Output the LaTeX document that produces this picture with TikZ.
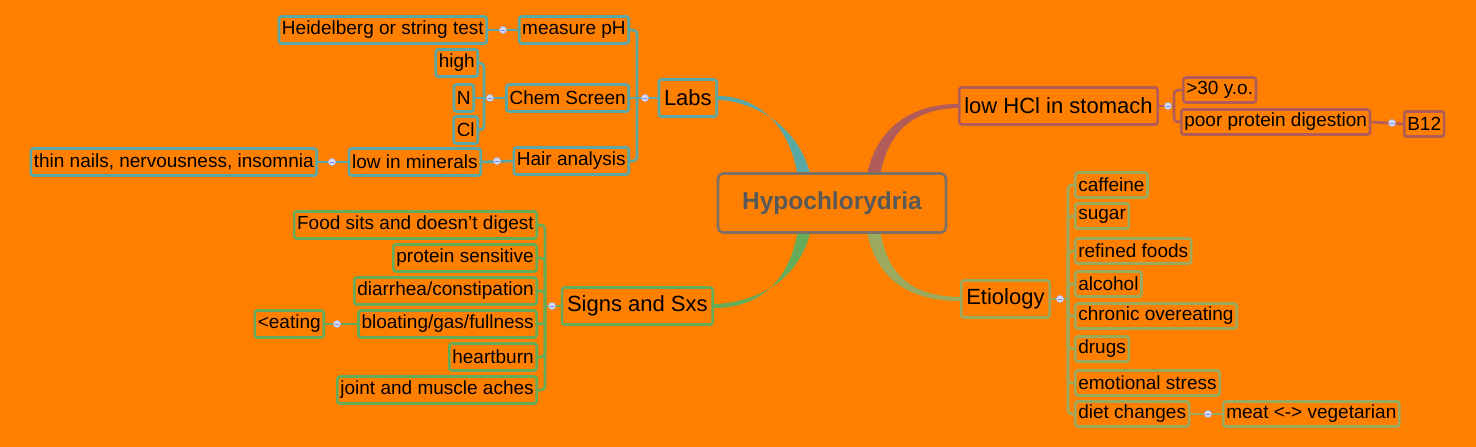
\documentclass[tikz,border=0pt]{standalone}
\usepackage{fontspec}
\setmainfont{Liberation Sans}
\usetikzlibrary{calc}
\definecolor{bg}{RGB}{255,128,0}
\definecolor{cTeal}{RGB}{90,168,165}
\definecolor{cGreen}{RGB}{100,172,90}
\definecolor{cRed}{RGB}{178,92,90}
\definecolor{cOlive}{RGB}{155,170,95}
\definecolor{cGrey}{RGB}{125,112,100}
\definecolor{cDot}{RGB}{215,222,240}
\tikzset{
  box/.style={draw, line width=2.6pt, rounded corners=2.5pt, inner sep=3pt, minimum height=27pt, font=\fontsize{19}{21}\selectfont, text=black},
  mainbox/.style={box, minimum height=37pt, inner sep=5pt, font=\fontsize{22}{25}\selectfont},
  dot/.style={circle, draw=cDot!80!blue, fill=cDot, line width=0.6pt, minimum size=7pt, inner sep=0pt,
    path picture={\draw[blue!50, line width=0.6pt] ($(path picture bounding box.center)+(-1.8pt,0)$) -- ++(3.6pt,0);}},
  lk/.style={line width=2.6pt, rounded corners=4pt},
}
\begin{document}
\begin{tikzpicture}[x=1pt,y=-1pt]
\fill[bg] (0,0) rectangle (1476,447);
\useasboundingbox (0,0) rectangle (1476,447);
% tapered branches
\fill[cTeal] (800,205) .. controls (800,130) and (760,96) .. (718,96) -- (718,100) .. controls (755,101) and (814,130) .. (814,205) -- cycle;
\fill[cGreen] (800,200) .. controls (800,280) and (760,308) .. (714,308) -- (714,304) .. controls (755,303) and (814,280) .. (814,200) -- cycle;
\fill[cRed] (864,205) .. controls (864,130) and (910,104) .. (958,104) -- (958,108) .. controls (915,109) and (878,130) .. (878,205) -- cycle;
\fill[cOlive] (864,200) .. controls (864,280) and (910,301) .. (960,301) -- (960,297) .. controls (915,296) and (878,280) .. (878,200) -- cycle;
% center
\node[draw=cGrey, fill=bg, line width=2.6pt, rounded corners=5pt, minimum width=228pt, minimum height=59pt, font=\fontsize{24.5}{28}\selectfont\bfseries, text=black!65] (root) at (832,203) {Hypochlorydria};

% Labs branch
\begin{scope}[every node/.append style={draw=cTeal}]
\node[mainbox, anchor=east] (labs) at (718,98) {Labs};
\node[box, anchor=east] (ph) at (630,30) {measure pH};
\node[box, anchor=east] (heid) at (488,30) {Heidelberg or string test};
\node[box, anchor=east] (chem) at (630,98) {Chem Screen};
\node[box, anchor=east] (high) at (479,63) {high};
\node[box, anchor=east] (n) at (475,98) {N};
\node[box, anchor=east] (cl) at (479,130) {Cl};
\node[box, anchor=east] (hair) at (630,161) {Hair analysis};
\node[box, anchor=east] (lowmin) at (482,162) {low in minerals};
\node[box, anchor=east] (thin) at (318,162) {thin nails, nervousness, insomnia};
\end{scope}
\coordinate (labsbus) at (637,98);
\coordinate (chembus) at (484,98);
\draw[lk, cTeal] (ph.east) -| (labsbus);
\draw[lk, cTeal] (hair.east) -| (labsbus);
\draw[lk, cTeal] (chem.east) -- (labsbus) -- (labs.west);
\draw[lk, cTeal] (high.east) -| (chembus);
\draw[lk, cTeal] (cl.east) -| (chembus);
\draw[lk, cTeal] (n.east) -- (chembus) -- (chem.west);
\draw[lk, cTeal] (heid.east) -- (ph.west);
\draw[lk, cTeal] (lowmin.east) -- (hair.west);
\draw[lk, cTeal] (thin.east) -- (lowmin.west);
\node[dot] at (645,98) {};
\node[dot] at (503,30) {};
\node[dot] at (490,98) {};
\node[dot] at (497,161) {};
\node[dot] at (332,162) {};

% Signs branch
\begin{scope}[every node/.append style={draw=cGreen}]
\node[mainbox, anchor=east] (signs) at (714,306) {Signs and Sxs};
\node[box, anchor=east] (food) at (538,225) {Food sits and doesn't digest};
\node[box, anchor=east] (prot) at (538,258) {protein sensitive};
\node[box, anchor=east] (diar) at (538,291) {diarrhea/constipation};
\node[box, anchor=east] (bloat) at (538,324) {bloating/gas/fullness};
\node[box, anchor=east] (heart) at (538,357) {heartburn};
\node[box, anchor=east] (joint) at (538,390) {joint and muscle aches};
\node[box, anchor=east] (eat) at (325,324) {<eating};
\end{scope}
\coordinate (signsbus) at (545,306);
\foreach \c in {food,prot,diar,bloat,heart,joint} \draw[lk, cGreen] (\c.east) -| (signsbus);
\draw[lk, cGreen] (signsbus) -- (signs.west);
\draw[lk, cGreen] (eat.east) -- (bloat.west);
\node[dot] at (552,306) {};
\node[dot] at (337,324) {};

% low HCl branch
\begin{scope}[every node/.append style={draw=cRed}]
\node[mainbox, anchor=west] (hcl) at (958,106) {low HCl in stomach};
\node[box, anchor=west, minimum height=25pt] (age) at (1182,90) {>30 y.o.};
\node[box, anchor=west, minimum height=25pt] (poor) at (1180,122) {poor protein digestion};
\node[box, anchor=west, minimum height=25pt] (b12) at (1403,124) {B12};
\end{scope}
\coordinate (hclbus) at (1174,106);
\draw[lk, cRed] (age.west) -| (hclbus);
\draw[lk, cRed] (poor.west) -| (hclbus);
\draw[lk, cRed] (hcl.east) -- (hclbus);
\draw[lk, cRed] (poor.east) -- (b12.west);
\node[dot] at (1168,106) {};
\node[dot] at (1392,123) {};

% Etiology branch
\begin{scope}[every node/.append style={draw=cOlive}]
\node[mainbox, anchor=west] (etio) at (960,299) {Etiology};
\node[box, anchor=west, minimum height=25pt] (e1) at (1074,185) {caffeine};
\node[box, anchor=west, minimum height=25pt] (e2) at (1074,216) {sugar};
\node[box, anchor=west, minimum height=25pt] (e3) at (1074,251) {refined foods};
\node[box, anchor=west, minimum height=25pt] (e4) at (1074,284) {alcohol};
\node[box, anchor=west, minimum height=25pt] (e5) at (1074,316) {chronic overeating};
\node[box, anchor=west, minimum height=25pt] (e6) at (1074,349) {drugs};
\node[box, anchor=west, minimum height=25pt] (e7) at (1074,383) {emotional stress};
\node[box, anchor=west, minimum height=25pt] (e8) at (1074,414) {diet changes};
\node[box, anchor=west, minimum height=25pt] (meat) at (1222,414) {meat <-> vegetarian};
\end{scope}
\coordinate (etiobus) at (1068,299);
\foreach \c in {e1,e2,e3,e4,e5,e6,e7,e8} \draw[lk, cOlive] (\c.west) -| (etiobus);
\draw[lk, cOlive] (etio.east) -- (etiobus);
\draw[lk, cOlive] (e8.east) -- (meat.west);
\node[dot] at (1060,299) {};
\node[dot] at (1208,414) {};
\end{tikzpicture}
\end{document}
